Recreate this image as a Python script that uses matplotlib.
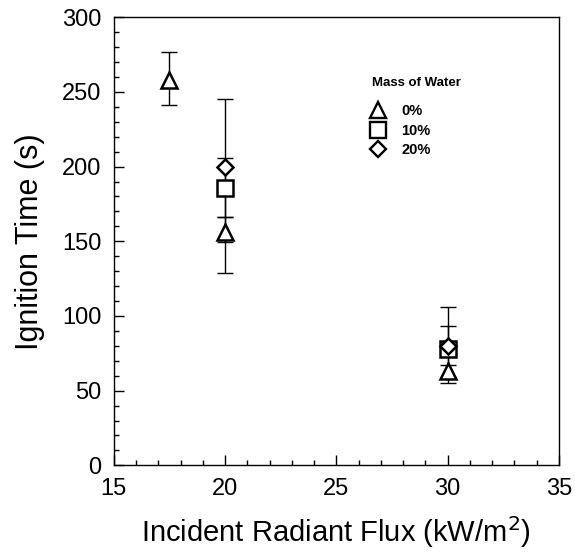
import matplotlib

matplotlib.use("Agg")
import matplotlib.pyplot as plt
from matplotlib.ticker import MultipleLocator

plt.rcParams["font.family"] = ["Liberation Sans", "DejaVu Sans"]

# Ignition time vs incident radiant flux, by mass of water
flux_0 = [17.5, 20, 30]
time_0 = [258, 156, 63]
err_lo_0 = [17, 6.5, 4.5]
err_hi_0 = [19, 10, 4.5]

flux_10 = [20, 30]
time_10 = [186, 78]
err_lo_10 = [57, 19]
err_hi_10 = [20, 15]

flux_20 = [20, 30]
time_20 = [200, 80]
err_lo_20 = [34, 25]
err_hi_20 = [45, 26]

series = [
    ("0%", flux_0, time_0, err_lo_0, err_hi_0, "^", 12),
    ("10%", flux_10, time_10, err_lo_10, err_hi_10, "s", 12),
    ("20%", flux_20, time_20, err_lo_20, err_hi_20, "D", 8.5),
]

fig = plt.figure(figsize=(5.75, 5.56), dpi=100)
ax = fig.add_axes([0.198, 0.163, 0.774, 0.806])

handles = []
for label, x, y, lo, hi, mk, ms in series:
    ax.errorbar(x, y, yerr=[lo, hi], fmt="none", ecolor="black",
                elinewidth=1.0, capsize=5.5, capthick=1.0, zorder=2)
    h, = ax.plot(x, y, linestyle="none", marker=mk, markersize=ms,
                 markerfacecolor="white", markeredgecolor="black",
                 markeredgewidth=1.8, label=label, zorder=3)
    handles.append(h)

ax.set_xlim(15, 35)
ax.set_ylim(0, 300)
ax.xaxis.set_major_locator(MultipleLocator(5))
ax.xaxis.set_minor_locator(MultipleLocator(1))
ax.yaxis.set_major_locator(MultipleLocator(50))
ax.yaxis.set_minor_locator(MultipleLocator(10))
ax.tick_params(which="both", direction="in", top=False, right=False,
               labelsize=17, width=1.0)
ax.tick_params(which="major", length=7, pad=9)
ax.tick_params(which="minor", length=3.5)
for s in ax.spines.values():
    s.set_linewidth(1.0)

ax.set_xlabel("Incident Radiant Flux (kW/m$^2$)", fontsize=21, labelpad=10)
ax.set_ylabel("Ignition Time (s)", fontsize=22, labelpad=12)

# legend: title as its own text so the gap above the entries can match
ax.text(0.58, 0.853, "Mass of Water", transform=ax.transAxes,
        fontsize=9.5, fontweight="bold", ha="left", va="center")
leg = ax.legend(handles=[plt.Line2D([], [], linestyle="none", marker=h.get_marker(),
                                    markersize=h.get_markersize() * 0.95,
                                    markerfacecolor="white",
                                    markeredgecolor="black",
                                    markeredgewidth=1.7)
                         for h in handles],
                labels=[h.get_label() for h in handles],
                loc="upper left", bbox_to_anchor=(0.575, 0.806),
                frameon=False, borderpad=0, borderaxespad=0,
                fontsize=10.5, handlelength=1.1, handletextpad=1.05,
                labelspacing=0.38)
for t in leg.get_texts():
    t.set_fontweight("bold")

fig.savefig("out.png", dpi=100)
